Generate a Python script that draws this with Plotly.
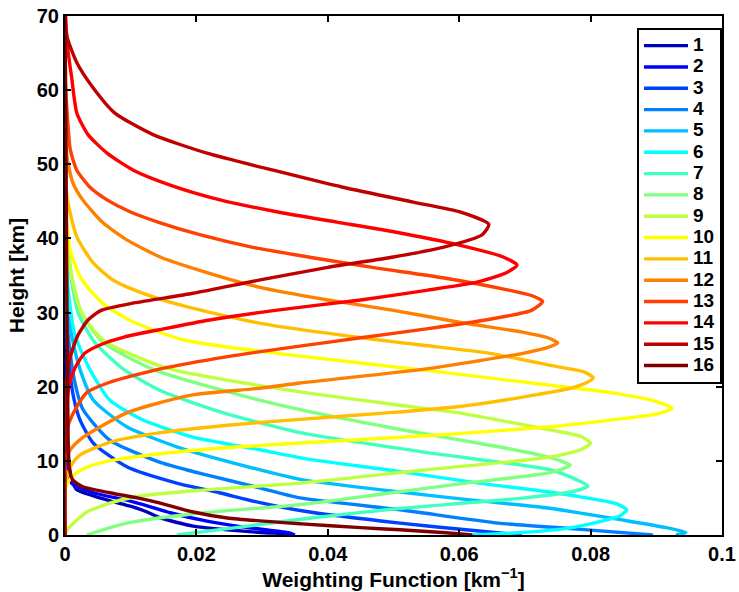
import plotly.graph_objects as go

# Heights [km] and weighting function values [km^-1] per channel
H1 = [0, 0.13, 0.3, 0.7, 1.2, 2.3, 3.1, 3.6, 4.0, 5.0, 6.1, 7.0, 8.4, 10, 14, 20, 70]
W1 = [0.0345, 0.0342, 0.0305, 0.0247, 0.0195, 0.0145, 0.0125, 0.011, 0.0094, 0.0053, 0.0018, 0.0012, 0.0008, 0.0005, 0.0002, 0.0, 0.0]

H2 = [0, 0.3, 1.1, 1.8, 3.0, 3.8, 4.7, 5.7, 7.0, 8.5, 10, 14, 20, 70]
W2 = [0.035, 0.034, 0.027, 0.022, 0.016, 0.013, 0.0094, 0.0043, 0.001, 0.0006, 0.0004, 0.0002, 0.0, 0.0]

H3 = [0, 0.7, 1.6, 3.2, 4.4, 5.7, 7.0, 9.2, 12.4, 15.5, 18.6, 24, 30, 70]
W3 = [0.0695, 0.061, 0.051, 0.0365, 0.0295, 0.0235, 0.017, 0.0094, 0.0043, 0.0023, 0.0013, 0.0005, 0.0, 0.0]

H4 = [0, 0.8, 1.6, 3.4, 5.0, 6.5, 8.0, 9.8, 12.8, 17, 21, 26, 32, 70]
W4 = [0.0895, 0.078, 0.066, 0.051, 0.0358, 0.029, 0.022, 0.0145, 0.0068, 0.0027, 0.0014, 0.0006, 0.0, 0.0]

H5 = [0, 0.35, 1.0, 2.0, 3.6, 4.7, 5.8, 7.5, 9.4, 11.9, 14.6, 18.2, 22.3, 27, 33, 70]
W5 = [0.093, 0.0945, 0.0915, 0.085, 0.0738, 0.062, 0.051, 0.0358, 0.027, 0.017, 0.0094, 0.0043, 0.0023, 0.001, 0.0, 0.0]

H6 = [0, 0.3, 0.9, 1.8, 2.6, 3.4, 4.2, 4.9, 5.8, 7.0, 8.8, 10.3, 11.5, 13.2, 15.5, 18.2, 22.3, 27, 33, 40, 70]
W6 = [0.062, 0.069, 0.0764, 0.0814, 0.0845, 0.0855, 0.084, 0.080, 0.0738, 0.063, 0.049, 0.0365, 0.0297, 0.0195, 0.0119, 0.0068, 0.0038, 0.0015, 0.0005, 0.0, 0.0]

H7 = [0, 1.0, 2.2, 3.5, 5.0, 5.9, 6.6, 7.4, 8.8, 11, 13.8, 16.5, 19.5, 22.3, 26, 30, 36, 44, 70]
W7 = [0.017, 0.026, 0.0365, 0.050, 0.0700, 0.0775, 0.0796, 0.078, 0.0738, 0.056, 0.0358, 0.024, 0.0145, 0.009, 0.0045, 0.002, 0.0007, 0.0, 0.0]

H8 = [0, 1.6, 2.9, 4.1, 5.5, 7.0, 8.4, 9.4, 10.4, 11.9, 14.4, 16.9, 19.5, 22.3, 26, 30, 35, 42, 70]
W8 = [0.0033, 0.0094, 0.020, 0.0358, 0.048, 0.061, 0.0738, 0.0769, 0.0740, 0.066, 0.050, 0.0358, 0.024, 0.0135, 0.0058, 0.0025, 0.001, 0.0002, 0.0]

H9 = [0, 0.7, 2.4, 3.1, 4.3, 5.2, 6.0, 7.0, 8.8, 10.5, 11.5, 12.4, 13.3, 14.2, 15.5, 16.5, 17.5, 19.3, 22.5, 26.3, 30, 35, 40, 46, 70]
W9 = [0.0, 0.0003, 0.0023, 0.0033, 0.0068, 0.011, 0.020, 0.0358, 0.055, 0.0738, 0.0785, 0.080, 0.0785, 0.0738, 0.066, 0.0597, 0.051, 0.0358, 0.0155, 0.0058, 0.0025, 0.001, 0.0003, 0.0, 0.0]

H10 = [0, 6.0, 7.0, 7.8, 8.7, 9.6, 10.2, 11.2, 11.9, 12.4, 13.5, 14.6, 15.5, 16.3, 17.1, 18.0, 19.2, 20.2, 22.0, 24.3, 26.3, 28.9, 31.2, 34.5, 38.4, 43, 48, 70]
W10 = [0.0, 0.0, 0.0004, 0.001, 0.0023, 0.0048, 0.008, 0.017, 0.0265, 0.0358, 0.057, 0.0738, 0.083, 0.090, 0.0924, 0.090, 0.083, 0.0738, 0.057, 0.0342, 0.018, 0.010, 0.0058, 0.0025, 0.0008, 0.0002, 0.0, 0.0]

H11 = [0, 7.0, 7.8, 9.5, 10.8, 12.5, 13.8, 14.8, 15.6, 16.5, 17.3, 18.6, 19.8, 20.6, 21.2, 22.0, 22.7, 24.5, 25.6, 26.5, 28.5, 30.8, 32.6, 34.4, 36.7, 40.2, 45.6, 52, 70]
W11 = [0.0, 0.0, 0.0003, 0.001, 0.0023, 0.0068, 0.0145, 0.0247, 0.0358, 0.0495, 0.0597, 0.0697, 0.077, 0.0795, 0.0804, 0.079, 0.0749, 0.0647, 0.0545, 0.046, 0.030, 0.0185, 0.0119, 0.0073, 0.0043, 0.0018, 0.0003, 0.0, 0.0]

H12 = [0, 10, 11.5, 13.0, 15.0, 16.5, 17.5, 18.9, 19.8, 20.5, 22.4, 23.5, 24.5, 25.3, 25.9, 26.6, 27.3, 28.7, 30.3, 31.7, 33.4, 35.7, 37.5, 39.8, 42.1, 45.2, 47.5, 51, 56, 70]
W12 = [0.0, 0.0, 0.0008, 0.0025, 0.0062, 0.0095, 0.013, 0.0195, 0.0297, 0.0358, 0.055, 0.063, 0.0697, 0.0735, 0.0750, 0.0735, 0.070, 0.060, 0.050, 0.040, 0.0297, 0.0205, 0.0145, 0.0094, 0.0058, 0.0027, 0.0012, 0.0003, 0.0, 0.0]

H13 = [0, 13, 15.1, 17.3, 19.2, 20.6, 22.4, 24.1, 25.5, 26.6, 27.8, 29.0, 30.3, 31.5, 32.3, 33.0, 34.7, 36.0, 37.4, 38.8, 40.5, 42.1, 43.6, 45.2, 46.9, 49.2, 52, 57.3, 62, 70]
W13 = [0.0, 0.0, 0.0006, 0.0018, 0.0033, 0.0068, 0.0145, 0.025, 0.036, 0.045, 0.055, 0.064, 0.071, 0.0727, 0.071, 0.0677, 0.0575, 0.0475, 0.0377, 0.0286, 0.0205, 0.0145, 0.0099, 0.0064, 0.0038, 0.0018, 0.0008, 0.0003, 0.0, 0.0]

H14 = [0, 15, 17, 20, 22.5, 24.5, 25.7, 26.7, 27.8, 29.0, 30.3, 31.7, 33.0, 34.1, 35.3, 36.4, 37.5, 39.1, 40.9, 42.2, 43.6, 45.2, 47.2, 49.2, 51.5, 54.0, 56.9, 61.8, 65, 68, 70]
W14 = [0.0, 0.0, 0.0002, 0.0006, 0.0015, 0.003, 0.0055, 0.009, 0.015, 0.022, 0.032, 0.045, 0.055, 0.0627, 0.067, 0.0688, 0.0667, 0.060, 0.050, 0.0414, 0.0322, 0.0236, 0.016, 0.0104, 0.0064, 0.0035, 0.0018, 0.001, 0.0005, 0.0002, 0.0001]

H15 = [0, 16, 20, 24, 27, 29, 30.3, 31.3, 32.6, 34.4, 36.1, 37.5, 38.8, 40.5, 41.9, 43.6, 44.9, 46.9, 49.2, 51.5, 54.0, 56.9, 60.3, 63.7, 67.2, 70]
W15 = [0.0, 0.0, 0.0002, 0.0008, 0.002, 0.0035, 0.0055, 0.0105, 0.0195, 0.0297, 0.040, 0.050, 0.0575, 0.0635, 0.0645, 0.060, 0.053, 0.0423, 0.0317, 0.0216, 0.0134, 0.0076, 0.0043, 0.0018, 0.0003, 0.0]

H16 = [0, 0.3, 0.7, 1.0, 1.5, 2.3, 3.1, 4.3, 5.0, 5.7, 6.5, 7.4, 8.8, 12, 20, 30, 45, 60, 68, 70]
W16 = [0.062, 0.058, 0.051, 0.045, 0.036, 0.0247, 0.0195, 0.0145, 0.011, 0.0068, 0.0027, 0.0012, 0.0007, 0.0005, 0.0004, 0.0003, 0.0002, 0.0001, 0.0, 0.0]

CHANNELS = [str(i) for i in range(1, 17)]
HEIGHTS = [H1, H2, H3, H4, H5, H6, H7, H8, H9, H10, H11, H12, H13, H14, H15, H16]
WEIGHTS = [W1, W2, W3, W4, W5, W6, W7, W8, W9, W10, W11, W12, W13, W14, W15, W16]

# MATLAB jet(16)
COLORS = ["rgb(0,0,191)", "rgb(0,0,255)", "rgb(0,64,255)", "rgb(0,128,255)",
          "rgb(0,191,255)", "rgb(0,255,255)", "rgb(64,255,191)", "rgb(128,255,128)",
          "rgb(191,255,64)", "rgb(255,255,0)", "rgb(255,191,0)", "rgb(255,128,0)",
          "rgb(255,64,0)", "rgb(255,0,0)", "rgb(191,0,0)", "rgb(128,0,0)"]

X_TICKS = [0, 0.02, 0.04, 0.06, 0.08, 0.1]
X_TICKTEXT = ["0", "0.02", "0.04", "0.06", "0.08", "0.1"]
Y_TICKS = [0, 10, 20, 30, 40, 50, 60, 70]

FONT = "Liberation Sans, Arial, Helvetica, sans-serif"

fig = go.Figure()
for name, h, w, c in zip(CHANNELS, HEIGHTS, WEIGHTS, COLORS):
    fig.add_trace(go.Scatter(
        x=w, y=h, mode="lines",
        name='<span style="font-size:19px">' + name + '</span>',
        line=dict(color=c, width=3.4, shape="spline", smoothing=0.6),
    ))

axis_common = dict(
    showline=True, linewidth=2, linecolor="black", mirror="ticks",
    ticks="inside", ticklen=6, tickwidth=1.5, tickcolor="black",
    showgrid=False, zeroline=False, automargin=False,
    tickfont=dict(family=FONT, size=20, color="black", weight="bold"),
)

fig.update_xaxes(range=[0, 0.1], tickvals=X_TICKS, ticktext=X_TICKTEXT,
                 title=dict(text="Weighting Function [km<sup>−1</sup>]",
                            font=dict(family=FONT, size=21, color="black", weight="bold"),
                            standoff=2),
                 **axis_common)
fig.update_yaxes(range=[0, 70], tickvals=Y_TICKS,
                 title=dict(text="Height [km]",
                            font=dict(family=FONT, size=21, color="black", weight="bold"),
                            standoff=6),
                 **axis_common)

fig.update_layout(
    width=739, height=592,
    margin=dict(l=65, r=17, t=16, b=57),
    paper_bgcolor="white", plot_bgcolor="white",
    font=dict(family=FONT, color="black"),
    legend=dict(x=1, xanchor="right", y=0.977, yanchor="top",
                bgcolor="white", bordercolor="black", borderwidth=2,
                font=dict(family=FONT, size=14.1, color="black", weight="bold"),
                tracegroupgap=0, itemwidth=44),
    showlegend=True,
)

fig.write_html("out.html")
